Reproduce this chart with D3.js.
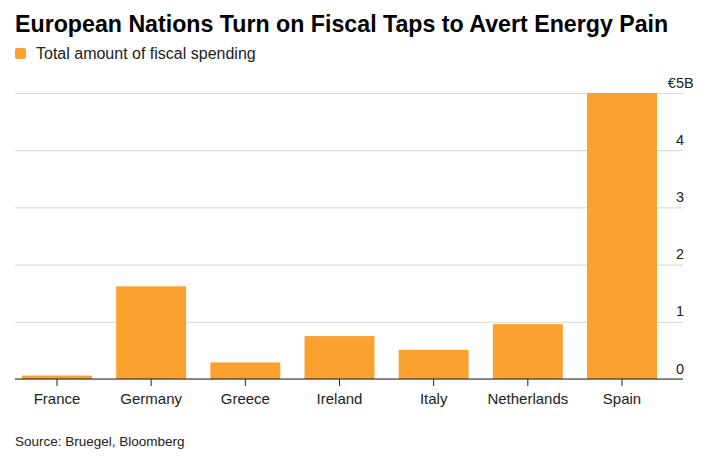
<!DOCTYPE html>
<html>
<head>
<meta charset="utf-8">
<script src="https://cdn.jsdelivr.net/npm/d3@7"></script>
<style>
  body { margin: 0; background: #fff; }
  svg { font-family: "Liberation Sans", Arial, sans-serif; }
</style>
</head>
<body>
<div id="chart"></div>
<script>
// data (EUR billions)
var countries = ["France", "Germany", "Greece", "Ireland", "Italy", "Netherlands", "Spain"];
var spending = [0.06, 1.62, 0.29, 0.75, 0.51, 0.96, 5.0];
var yTicks = [0, 1, 2, 3, 4, 5];

var W = 709, H = 460;
var plotLeft = 15, plotRight = 683, plotTop = 93, plotBottom = 379;
var orange = "#fba12f";

var svg = d3.select("#chart").append("svg")
    .attr("width", W)
    .attr("height", H);

svg.append("text")
    .attr("x", 15).attr("y", 32)
    .style("font-size", "23.2px")
    .style("font-weight", "bold")
    .attr("fill", "#000")
    .text("European Nations Turn on Fiscal Taps to Avert Energy Pain");

// legend
svg.append("rect")
    .attr("x", 15).attr("y", 48)
    .attr("width", 11).attr("height", 11)
    .attr("rx", 2)
    .attr("fill", orange);
svg.append("text")
    .attr("x", 36).attr("y", 59)
    .style("font-size", "16px")
    .attr("fill", "#222")
    .text("Total amount of fiscal spending");

var x = d3.scaleBand()
    .domain(countries)
    .range([22, 657])
    .paddingInner(0.257)
    .paddingOuter(0);

var y = d3.scaleLinear()
    .domain([0, 5])
    .range([plotBottom, plotTop]);

// gridlines + labels on the right
var yAxis = d3.axisLeft(y)
    .tickValues(yTicks)
    .tickSize(plotRight - plotLeft)
    .tickFormat(function(d){ return d; });

var gy = svg.append("g")
    .attr("transform", "translate(" + plotRight + ",0)")
    .call(yAxis);
gy.select(".domain").remove();
gy.selectAll(".tick line").attr("stroke", "#d6d6d6");
gy.selectAll(".tick text")
    .attr("x", 1)
    .attr("dy", -6)
    .attr("text-anchor", "end")
    .style("font-size", "14.5px")
    .style("font-family", "Liberation Sans, Arial, sans-serif")
    .attr("fill", "#222");

// currency prefix / unit suffix on the top tick
var topTick = gy.selectAll(".tick").filter(function(d){ return d === 5; });
topTick.select("text").text("€5");
topTick.append("text")
    .attr("x", 1)
    .attr("dy", -6)
    .attr("text-anchor", "start")
    .style("font-size", "14.5px")
    .style("font-family", "Liberation Sans, Arial, sans-serif")
    .attr("fill", "#222")
    .text("B");

// bars
svg.selectAll("rect.bar")
    .data(countries)
    .enter()
    .append("rect")
    .attr("class", "bar")
    .attr("x", function(d){ return x(d); })
    .attr("y", function(d, i){ return y(spending[i]); })
    .attr("width", x.bandwidth())
    .attr("height", function(d, i){ return y(0) - y(spending[i]); })
    .attr("fill", orange);

// baseline
svg.append("line")
    .attr("x1", plotLeft).attr("x2", plotRight)
    .attr("y1", plotBottom).attr("y2", plotBottom)
    .attr("stroke", "#222")
    .attr("stroke-width", 1.2);

var xAxis = d3.axisBottom(x)
    .tickSize(7)
    .tickPadding(7);

var gx = svg.append("g")
    .attr("transform", "translate(0," + plotBottom + ")")
    .call(xAxis);
gx.select(".domain").remove();
gx.selectAll(".tick line").attr("stroke", "#222");
gx.selectAll(".tick text")
    .style("font-size", "15px")
    .style("font-family", "Liberation Sans, Arial, sans-serif")
    .attr("fill", "#222");

svg.append("text")
    .attr("x", 15).attr("y", 446)
    .style("font-size", "13.5px")
    .attr("fill", "#222")
    .text("Source: Bruegel, Bloomberg");
</script>
</body>
</html>
